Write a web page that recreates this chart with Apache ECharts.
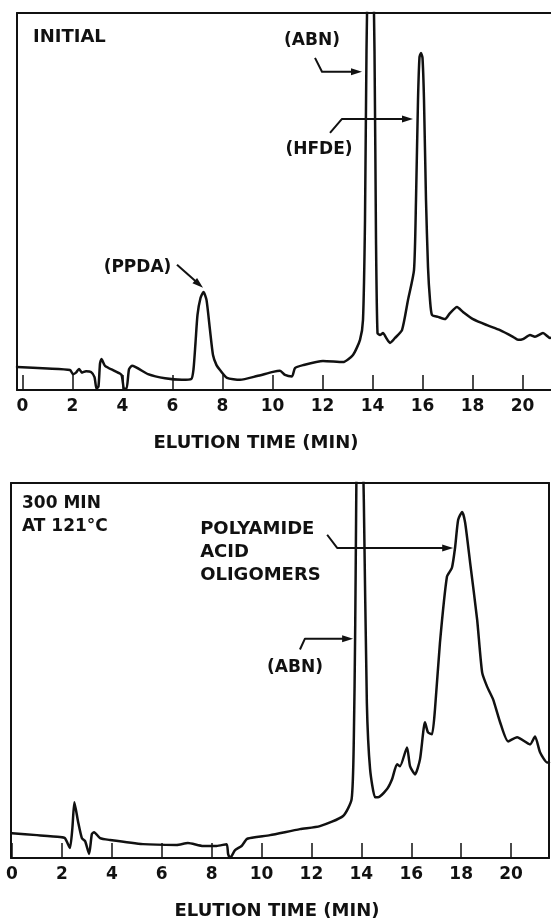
<!DOCTYPE html>
<html>
<head>
<meta charset="utf-8">
<title>Elution profiles</title>
<script src="https://cdn.jsdelivr.net/npm/echarts@6/dist/echarts.min.js"></script>
<style>
  html, body { margin: 0; padding: 0; background: #fff; }
  #chart { width: 551px; height: 921px; }
</style>
</head>
<body>
<div id="chart"></div>
<script>
// Elution time axis ticks (minutes)
const tickValues = [0, 2, 4, 6, 8, 10, 12, 14, 16, 18, 20];

// Initial sample: elution time (min) and detector response (relative units)
const initialTime = [
  -0.22, 1.0, 1.9, 2.02, 2.14, 2.26, 2.38, 2.54, 2.74, 2.88, 2.96, 3.04, 3.1, 3.16, 3.3, 3.7,
  3.96, 4.06, 4.16, 4.26, 4.38, 5.02, 5.7, 6.38, 6.75, 6.84, 6.92, 7.0, 7.12, 7.24, 7.36, 7.5, 7.62,
  7.76, 7.9, 8.18, 8.7, 9.38, 10.02, 10.3, 10.5, 10.78, 10.9, 11.22, 12.02, 12.82, 13.22, 13.5, 13.62,
  13.7, 13.76, 13.92, 14.08, 14.14, 14.2, 14.3, 14.42, 14.55, 14.7, 14.9, 15.18, 15.42, 15.66,
  15.74, 15.82, 15.88, 15.94, 16.0, 16.06, 16.14, 16.22, 16.3, 16.38, 16.62, 16.9, 17.1, 17.38,
  17.62, 18.02, 18.58, 19.1, 19.62, 19.82, 20.02, 20.3, 20.5, 20.82, 21.1, 21.2
];
const initialResponse = [
  6.1, 5.7, 5.3, 4.2, 4.6, 5.6, 4.6, 5.0, 4.8, 3.4, 0.3, 1.0, 7.0, 8.2, 6.4, 5.0,
  4.0, 0.3, 0.3, 5.5, 6.4, 4.2, 3.1, 2.7, 2.9, 5.5, 12.5, 19.9, 24.4, 26.0, 23.9, 15.9, 9.3,
  6.6, 5.3, 3.2, 2.7, 3.7, 4.8, 5.1, 4.0, 3.6, 5.8, 6.6, 7.7, 7.4, 9.3, 13.3, 18.6,
  45, 90, 150, 90, 40, 15.1, 14.6, 15.1, 13.8, 12.5, 13.8, 15.9, 23.9, 31.8,
  50.4, 76.9, 88.3, 89.4, 88.1, 76.9, 50.4, 32.6, 23.9, 19.9, 19.4, 18.8, 20.4, 22.0,
  20.7, 18.8, 17.2, 15.9, 14.1, 13.3, 13.5, 14.6, 14.1, 15.1, 13.8, 13.9
];

// After 300 min at 121 °C
const heatedTime = [
  0, 1.0, 1.92, 2.12, 2.32, 2.42, 2.5, 2.65, 2.8, 2.93, 3.09, 3.2, 3.29, 3.53, 3.93, 5.25,
  6.6, 7.05, 7.66, 8.2, 8.6, 8.66, 8.74, 8.94, 9.2, 9.42, 9.8, 10.34, 11.54, 12.34, 13.27,
  13.61, 13.7, 13.75, 13.9, 14.1, 14.22, 14.35, 14.55, 14.67, 15.03, 15.23, 15.43, 15.55,
  15.83, 15.95, 16.15, 16.35, 16.55, 16.67, 16.83, 16.95, 17.15, 17.43, 17.63, 17.76, 17.88,
  18.04, 18.16, 18.36, 18.64, 18.84, 19.04, 19.28, 19.56, 19.88, 20.24, 20.76, 20.96, 21.16,
  21.44, 21.52
];
const heatedResponse = [
  6.6, 6.1, 5.6, 5.3, 2.7, 8.0, 14.9, 9.6, 5.3, 4.5, 1.1, 6.4, 6.9, 5.3, 4.8, 3.7,
  3.5, 4.0, 3.2, 3.2, 3.7, 1.1, 0, 2.1, 3.2, 5.1, 5.6, 6.1, 7.7, 8.5, 11.2,
  15.7, 32.4, 59.0, 160, 95, 41.5, 23.7, 16.2, 16.2, 18.4, 21.0, 25.0, 24.5,
  29.5, 24.5, 22.3, 26.3, 36.2, 33.5, 33.0, 39.6, 57.4, 75.0, 77.4, 83.0, 90.2,
  92.3, 89.4, 78.7, 63.6, 49.5, 45.7, 42.3, 36.2, 31.1, 32.2, 30.3, 32.4, 28.2,
  25.5, 25.5
];

const INK = '#111';
const FONT = '"DejaVu Sans", "Liberation Sans", sans-serif';

function pairs(xs, ys) { return xs.map((x, i) => [x, ys[i]]); }

function timeAxis(gridIndex, min, max, nameShift) {
  return {
    type: 'value', gridIndex, min, max, position: 'bottom',
    name: 'ELUTION TIME (MIN)',
    nameLocation: 'middle',
    nameGap: 44,
    nameTextStyle: {
      color: INK, fontFamily: FONT, fontWeight: 'bold', fontSize: 18,
      padding: nameShift > 0 ? [0, nameShift, 0, 0] : [0, 0, 0, -nameShift]
    },
    axisLine: { show: true, onZero: false, lineStyle: { color: INK, width: 2 } },
    axisTick: { show: true, inside: true, length: 15, customValues: tickValues,
                lineStyle: { color: INK, width: 1.5 } },
    axisLabel: { show: true, customValues: tickValues, margin: 8,
                 color: INK, fontFamily: FONT, fontWeight: 'bold', fontSize: 17 },
    splitLine: { show: false }
  };
}

// Plain frame edge along the top of a panel
function frameTop(gridIndex, min, max) {
  return {
    type: 'value', gridIndex, min, max, position: 'top',
    axisLine: { show: true, onZero: false, lineStyle: { color: INK, width: 2 } },
    axisTick: { show: false }, axisLabel: { show: false }, splitLine: { show: false }
  };
}

function responseAxis(gridIndex, position) {
  return {
    type: 'value', gridIndex, min: 0, max: 100, position,
    axisLine: { show: true, onZero: false, lineStyle: { color: INK, width: 2 } },
    axisTick: { show: false },
    axisLabel: { show: false }, splitLine: { show: false }
  };
}

function trace(name, idx, data) {
  return {
    name, type: 'line', xAxisIndex: idx, yAxisIndex: idx,
    data, showSymbol: false, symbol: 'none', clip: true,
    smooth: 0.2,
    lineStyle: { color: INK, width: 2.5, join: 'round', cap: 'round' },
    animation: false
  };
}

const chart = echarts.init(document.getElementById('chart'), null, { renderer: 'canvas' });

const topMin = -0.22, topMax = 21.14;
const lowMin = -0.04, lowMax = 21.52;

chart.setOption({
  backgroundColor: '#fff',
  animation: false,
  grid: [
    { left: 17, right: 0, top: 13, bottom: 531 },
    { left: 11, right: 2, top: 483, bottom: 62 }
  ],
  xAxis: [
    timeAxis(0, topMin, topMax, 56),
    timeAxis(1, lowMin, lowMax, 6),
    frameTop(0, topMin, topMax),
    frameTop(1, lowMin, lowMax)
  ],
  yAxis: [
    responseAxis(0, 'left'),
    responseAxis(1, 'left'),
    responseAxis(1, 'right')
  ],
  series: [
    trace('Initial', 0, pairs(initialTime, initialResponse)),
    trace('300 min at 121 °C', 1, pairs(heatedTime, heatedResponse))
  ]
});

// Annotations are anchored in data coordinates (time, response)
function px(grid, p) { return chart.convertToPixel({ gridIndex: grid }, p); }

function label(grid, at, text, align, vAlign, size, lineHeight) {
  const p = px(grid, at);
  return {
    type: 'text', x: p[0], y: p[1], silent: true,
    style: {
      text, fill: INK, font: 'bold ' + (size || 17) + 'px ' + FONT,
      align: align || 'left', verticalAlign: vAlign || 'middle',
      lineHeight: lineHeight || 20
    }
  };
}

function arrow(grid, pts) {
  const p = pts.map(q => px(grid, q));
  const tip = p[p.length - 1];
  const prev = p[p.length - 2];
  const dx = tip[0] - prev[0], dy = tip[1] - prev[1];
  const len = Math.hypot(dx, dy) || 1;
  const ux = dx / len, uy = dy / len;
  const headLen = 11, headHalf = 3.5;
  const bx = tip[0] - ux * headLen, by = tip[1] - uy * headLen;
  return [
    { type: 'polyline', silent: true,
      shape: { points: p.slice(0, -1).concat([[bx + ux * 2, by + uy * 2]]) },
      style: { stroke: INK, lineWidth: 2, fill: null, lineJoin: 'round' } },
    { type: 'polygon', silent: true,
      shape: { points: [tip, [bx - uy * headHalf, by + ux * headHalf], [bx + uy * headHalf, by - ux * headHalf]] },
      style: { fill: INK } }
  ];
}

const graphics = [].concat(
  [label(0, [0.42, 93.6], 'INITIAL', 'left', 'middle', 18)],
  [label(0, [11.58, 92.6], '(ABN)', 'center')],
  arrow(0, [[11.7, 88.1], [11.98, 84.4], [13.58, 84.4]]),
  [label(0, [11.86, 63.7], '(HFDE)', 'center')],
  arrow(0, [[12.3, 68.2], [12.78, 71.9], [15.62, 71.9]]),
  [label(0, [4.6, 32.6], '(PPDA)', 'center')],
  arrow(0, [[6.18, 33.2], [7.22, 27.1]]),

  [label(1, [0.4, 97.7], '300 MIN\nAT 121°C', 'left', 'top', 17, 23)],
  [label(1, [7.54, 90.8], 'POLYAMIDE\nACID\nOLIGOMERS', 'left', 'top', 18, 23)],
  arrow(1, [[12.63, 86.2], [13.03, 82.7], [17.68, 82.7]]),
  [label(1, [11.34, 50.8], '(ABN)', 'center')],
  arrow(1, [[11.54, 55.6], [11.74, 58.5], [13.67, 58.5]])
);

chart.setOption({ graphic: graphics });
</script>
</body>
</html>
